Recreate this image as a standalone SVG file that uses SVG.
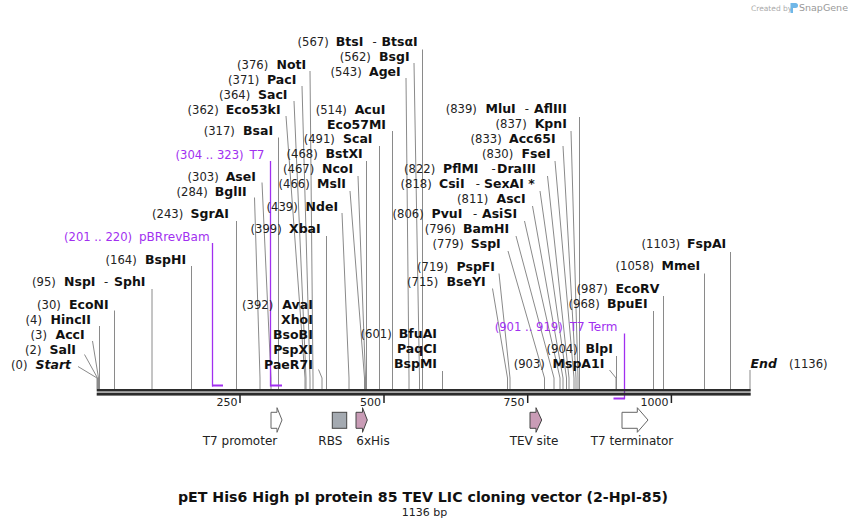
<svg xmlns="http://www.w3.org/2000/svg" width="848" height="528" viewBox="0 0 848 528">
<style>
.ln{stroke:#8a8a8a;stroke-width:1;fill:none}
.pl{stroke:#a12ff0;stroke-width:1.3;fill:none}
.pb{fill:#a12ff0}
.n{font-family:"DejaVu Sans",Verdana,sans-serif;font-size:11.6px;fill:#222}
.e{font-family:"DejaVu Sans",Verdana,sans-serif;font-size:12.5px;font-weight:bold;fill:#111}
.ei{font-family:"DejaVu Sans",Verdana,sans-serif;font-size:12.5px;font-weight:bold;font-style:italic;fill:#111}
.pn{font-family:"DejaVu Sans",Verdana,sans-serif;font-size:11.6px;fill:#a12ff0}
.pt{font-family:"DejaVu Sans",Verdana,sans-serif;font-size:12px;fill:#a12ff0}
.ft{font-family:"DejaVu Sans",Verdana,sans-serif;font-size:12px;fill:#222}
.tk{font-family:"DejaVu Sans",Verdana,sans-serif;font-size:11px;fill:#222;text-anchor:end}
.r{text-anchor:end}
.tick{stroke:#222;stroke-width:1.5}
.fo{fill:#fff;stroke:#666;stroke-width:1}
.fp{fill:#c99cb6;stroke:#444;stroke-width:1}
</style>
<rect width="848" height="528" fill="#fff"/>

<g id="watermark">
<text x="751" y="10.5" font-family="DejaVu Sans, sans-serif" font-size="7.5" fill="#aaa">Created by</text>
<path d="M790.5,3 h5 a2.5,2.5 0 0 1 0,5 h-2.5 v5 h-2.5 z" fill="#6fb7e8"/>
<text x="799" y="11" font-family="DejaVu Sans, sans-serif" font-size="9.5" fill="#999">SnapGene</text>
</g>

<g id="connectors">
<g class="ln">
<polyline points="78,366.5 97,378 97,389"/>
<polyline points="84.5,354.5 97.5,378 97.5,389"/>
<polyline points="92.5,341 98.5,378 98.5,389"/>
<polyline points="99.5,326 99.5,389"/>
<polyline points="114.5,310.5 114.5,389"/>
<polyline points="152,289 152,389"/>
<polyline points="191.5,266 191.5,389"/>
<polyline points="236.5,221 236.5,389"/>
<polyline points="254.5,197.5 260,378 260,389"/>
<polyline points="262,182.5 271,378 271,389"/>
<polyline points="278.5,137.5 278.5,389"/>
<polyline points="286,116 305,378 305,389"/>
<polyline points="294,101 306,378 306,389"/>
<polyline points="302,86 310,378 310,389"/>
<polyline points="310,71 313,378 313,389"/>
<polyline points="318.5,369.5 322,378 322,389"/>
<polyline points="326.5,236 326.5,389"/>
<polyline points="342,213 349,378 349,389"/>
<polyline points="350,191 364.5,378 364.5,389"/>
<polyline points="358,176 365.5,378 365.5,389"/>
<polyline points="366.5,161 366.5,389"/>
<polyline points="379.5,146 379.5,389"/>
<polyline points="392.5,131 392.5,389"/>
<polyline points="406,78 409,378 409,389"/>
<polyline points="414,63 419.5,378 419.5,389"/>
<polyline points="422.5,49.5 422.5,389"/>
<polyline points="442.5,371 442.5,389"/>
<polyline points="492.5,288.5 507.5,378 507.5,389"/>
<polyline points="499,273.5 510,378 510,389"/>
<polyline points="508,251 544.5,378 544.5,389"/>
<polyline points="516,236 554,378 554,389"/>
<polyline points="524.5,221 560,378 560,389"/>
<polyline points="532.5,206 563,378 563,389"/>
<polyline points="540,191 566.5,378 566.5,389"/>
<polyline points="547.5,176 569,378 569,389"/>
<polyline points="555,161 574,378 574,389"/>
<polyline points="563,146 576,378 576,389"/>
<polyline points="571,131 578,378 578,389"/>
<polyline points="579.5,117 579.5,389"/>
<polyline points="609.5,370 616,378 616,389"/>
<polyline points="616.5,356 616.5,389"/>
<polyline points="653.5,311 653.5,389"/>
<polyline points="663.5,296 663.5,389"/>
<polyline points="704.5,273.5 704.5,389"/>
<polyline points="730.5,252 730.5,389"/>
<polyline points="750,370 750,389"/>
</g>
<g>
<line class="pl" x1="212.5" y1="243" x2="212.5" y2="386.5"/>
<rect class="pb" x="212" y="384.5" width="11" height="2"/>
<line class="pl" x1="270.5" y1="161" x2="270.5" y2="386.5"/>
<rect class="pb" x="270.5" y="384.5" width="11.5" height="2"/>
<line class="pl" x1="624.5" y1="333.5" x2="624.5" y2="399"/>
<rect class="pb" x="613.5" y="397.5" width="11.5" height="2"/>
</g>
</g>

<g id="axis">
<rect x="96.7" y="389" width="654" height="2.5" fill="#2b2b2b"/>
<rect x="96.7" y="392.6" width="654" height="3" fill="#2b2b2b"/>
<line class="tick" x1="240" y1="395" x2="240" y2="403"/>
<line class="tick" x1="384" y1="395" x2="384" y2="403"/>
<line class="tick" x1="527.7" y1="395" x2="527.7" y2="403"/>
<line class="tick" x1="671.4" y1="395" x2="671.4" y2="403"/>
<text class="tk" x="237.5" y="405.5">250</text>
<text class="tk" x="381" y="405.5">500</text>
<text class="tk" x="524.5" y="405.5">750</text>
<text class="tk" x="668.5" y="405.5">1000</text>
</g>

<g id="start"><text class="n" x="11" y="368.5">(0)</text><text class="ei" x="35.5" y="368.5">Start</text></g>
<g id="SalI"><text class="n" x="25" y="353.5">(2)</text><text class="e" x="49.5" y="353.5">SalI</text></g>
<g id="AccI"><text class="n" x="30.5" y="338.5">(3)</text><text class="e" x="55.5" y="338.5">AccI</text></g>
<g id="HincII"><text class="n" x="25.5" y="323.5">(4)</text><text class="e" x="50.5" y="323.5">HincII</text></g>
<g id="EcoNI"><text class="n" x="37" y="308.5">(30)</text><text class="e" x="69" y="308.5">EcoNI</text></g>
<g id="NspI"><text class="n" x="32" y="286">(95)</text><text class="e" x="64" y="286">NspI</text><text class="n" x="104" y="286">-</text><text class="e" x="114" y="286">SphI</text></g>
<g id="BspHI"><text class="n" x="105.5" y="264">(164)</text><text class="e" x="145" y="264">BspHI</text></g>
<g id="pBRrevBam"><text class="pn" x="64" y="240.7">(201 .. 220)</text><text class="pt" x="139" y="240.7">pBRrevBam</text></g>
<g id="SgrAI"><text class="n" x="152" y="218.3">(243)</text><text class="e" x="190.5" y="218.3">SgrAI</text></g>
<g id="BglII"><text class="n" x="176.5" y="195.7">(284)</text><text class="e" x="214.7" y="195.7">BglII</text></g>
<g id="AseI"><text class="n" x="187.5" y="180.7">(303)</text><text class="e" x="225.7" y="180.7">AseI</text></g>
<g id="T7"><text class="pn" x="175.5" y="159.3">(304 .. 323)</text><text class="pt" x="249.5" y="159.3">T7</text></g>
<g id="BsaI"><text class="n" x="203.7" y="135.3">(317)</text><text class="e" x="243" y="135.3">BsaI</text></g>
<g id="Eco53kI"><text class="n" x="187.5" y="114">(362)</text><text class="e" x="225.7" y="114">Eco53kI</text></g>
<g id="SacI"><text class="n" x="219" y="98.7">(364)</text><text class="e" x="258" y="98.7">SacI</text></g>
<g id="PacI"><text class="n" x="228" y="84">(371)</text><text class="e" x="267" y="84">PacI</text></g>
<g id="NotI"><text class="n" x="237" y="69">(376)</text><text class="e" x="276.5" y="69">NotI</text></g>
<g id="BtsI"><text class="n" x="297.5" y="45.7">(567)</text><text class="e" x="335.7" y="45.7">BtsI</text><text class="n" x="372.5" y="45.7">-</text><text class="e" x="381.5" y="45.7">BtsαI</text></g>
<g id="BsgI"><text class="n" x="339.7" y="60.7">(562)</text><text class="e" x="379" y="60.7">BsgI</text></g>
<g id="AgeI"><text class="n" x="330.5" y="75.7">(543)</text><text class="e" x="369" y="75.7">AgeI</text></g>
<g id="AcuI"><text class="n" x="315.7" y="113.7">(514)</text><text class="e" x="354.7" y="113.7">AcuI</text><text class="e" x="327" y="128.7">Eco57MI</text></g>
<g id="ScaI"><text class="n" x="303.7" y="143.3">(491)</text><text class="e" x="343" y="143.3">ScaI</text></g>
<g id="BstXI"><text class="n" x="286.5" y="158.3">(468)</text><text class="e" x="325.5" y="158.3">BstXI</text></g>
<g id="NcoI"><text class="n" x="283" y="173.3">(467)</text><text class="e" x="322" y="173.3">NcoI</text></g>
<g id="MslI"><text class="n" x="278.5" y="188.3">(466)</text><text class="e" x="317" y="188.3">MslI</text></g>
<g id="NdeI"><text class="n" x="266.5" y="210.7">(439)</text><text class="e" x="305.5" y="210.7">NdeI</text></g>
<g id="XbaI"><text class="n" x="250.5" y="233.3">(399)</text><text class="e" x="289" y="233.3">XbaI</text></g>
<g id="AvaI"><text class="n" x="242" y="308.7">(392)</text>
<text class="e r" x="312.8" y="308.7">AvaI</text><text class="e r" x="312.8" y="323.7">XhoI</text><text class="e r" x="312.8" y="338.7">BsoBI</text><text class="e r" x="312.8" y="353.7">PspXI</text><text class="e r" x="312.8" y="368.7">PaeR7I</text></g>
<g id="BfuAI"><text class="n" x="360.5" y="338.3">(601)</text>
<text class="e r" x="437" y="338.3">BfuAI</text><text class="e r" x="437" y="353.3">PaqCI</text><text class="e r" x="437" y="368.3">BspMI</text></g>
<g id="BseYI"><text class="n" x="407" y="286">(715)</text><text class="e" x="446.5" y="286">BseYI</text></g>
<g id="PspFI"><text class="n" x="417" y="270.7">(719)</text><text class="e" x="456.5" y="270.7">PspFI</text></g>
<g id="SspI"><text class="n" x="432.5" y="247.7">(779)</text><text class="e" x="470.7" y="247.7">SspI</text></g>
<g id="BamHI"><text class="n" x="424.7" y="233.3">(796)</text><text class="e" x="463" y="233.3">BamHI</text></g>
<g id="PvuI"><text class="n" x="392.5" y="218.3">(806)</text><text class="e" x="431.5" y="218.3">PvuI</text><text class="n" x="473" y="218.3">-</text><text class="e" x="482" y="218.3">AsiSI</text></g>
<g id="AscI"><text class="n" x="457" y="203.3">(811)</text><text class="e" x="496.5" y="203.3">AscI</text></g>
<g id="CsiI"><text class="n" x="400.5" y="188.3">(818)</text><text class="e" x="439" y="188.3">CsiI</text><text class="n" x="475.7" y="188.3">-</text><text class="e" x="484" y="188.3">SexAI *</text></g>
<g id="PflMI"><text class="n" x="404" y="173.3">(822)</text><text class="e" x="443" y="173.3">PflMI</text><text class="n" x="491.5" y="173.3">-</text><text class="e" x="497" y="173.3">DraIII</text></g>
<g id="FseI"><text class="n" x="482" y="158.3">(830)</text><text class="e" x="521.5" y="158.3">FseI</text></g>
<g id="Acc65I"><text class="n" x="470.5" y="143.3">(833)</text><text class="e" x="509" y="143.3">Acc65I</text></g>
<g id="KpnI"><text class="n" x="495.5" y="128.3">(837)</text><text class="e" x="534.7" y="128.3">KpnI</text></g>
<g id="MluI"><text class="n" x="445.7" y="113.3">(839)</text><text class="e" x="485.5" y="113.3">MluI</text><text class="n" x="524.7" y="113.3">-</text><text class="e" x="534" y="113.3">AflIII</text></g>
<g id="T7Term"><text class="pn" x="494.7" y="331">(901 .. 919)</text><text class="pt" x="569.7" y="331">T7 Term</text></g>
<g id="MspA1I"><text class="n" x="513.7" y="368.3">(903)</text><text class="e" x="552.5" y="368.3">MspA1I</text></g>
<g id="BlpI"><text class="n" x="546.5" y="353.3">(904)</text><text class="e" x="585.5" y="353.3">BlpI</text></g>
<g id="BpuEI"><text class="n" x="568.5" y="308.3">(968)</text><text class="e" x="607" y="308.3">BpuEI</text></g>
<g id="EcoRV"><text class="n" x="576.5" y="293.3">(987)</text><text class="e" x="615.5" y="293.3">EcoRV</text></g>
<g id="MmeI"><text class="n" x="615.5" y="270">(1058)</text><text class="e" x="661.5" y="270">MmeI</text></g>
<g id="FspAI"><text class="n" x="641.5" y="248.3">(1103)</text><text class="e" x="687" y="248.3">FspAI</text></g>
<g id="end"><text class="ei" x="750.5" y="368.3">End</text><text class="n" x="789" y="368.3">(1136)</text></g>

<g id="f-T7promoter"><polygon class="fo" points="271,412.3 277,412.3 277,407.7 282,420 277,432.3 277,428.3 271,428.3"/><text class="ft" x="240" y="445" text-anchor="middle">T7 promoter</text></g>
<g id="f-RBS"><rect x="332.3" y="412.3" width="14.4" height="16" fill="#a4aab1" stroke="#444"/><text class="ft" x="330.3" y="445" text-anchor="middle">RBS</text></g>
<g id="f-6xHis"><polygon class="fp" points="356,412.3 362.5,412.3 362.5,407.7 367.3,420 362.5,432.3 362.5,428.3 356,428.3"/><text class="ft" x="373" y="445" text-anchor="middle">6xHis</text></g>
<g id="f-TEV"><polygon class="fp" points="530,412.3 536,412.3 536,407.7 541.7,420 536,432.3 536,428.3 530,428.3"/><text class="ft" x="534" y="445" text-anchor="middle">TEV site</text></g>
<g id="f-T7terminator"><polygon class="fo" points="622,412.3 637.3,412.3 637.3,407.7 648,420 637.3,432.3 637.3,428.3 622,428.3"/><text class="ft" x="632" y="445" text-anchor="middle">T7 terminator</text></g>

<g id="title">
<text x="423" y="501.5" text-anchor="middle" font-family="DejaVu Sans, Verdana, sans-serif" font-size="14.2" font-weight="bold" fill="#111">pET His6 High pI protein 85 TEV LIC cloning vector (2-HpI-85)</text>
<text x="424.5" y="515.5" text-anchor="middle" font-family="DejaVu Sans, Verdana, sans-serif" font-size="11" fill="#222">1136 bp</text>
</g>
</svg>
